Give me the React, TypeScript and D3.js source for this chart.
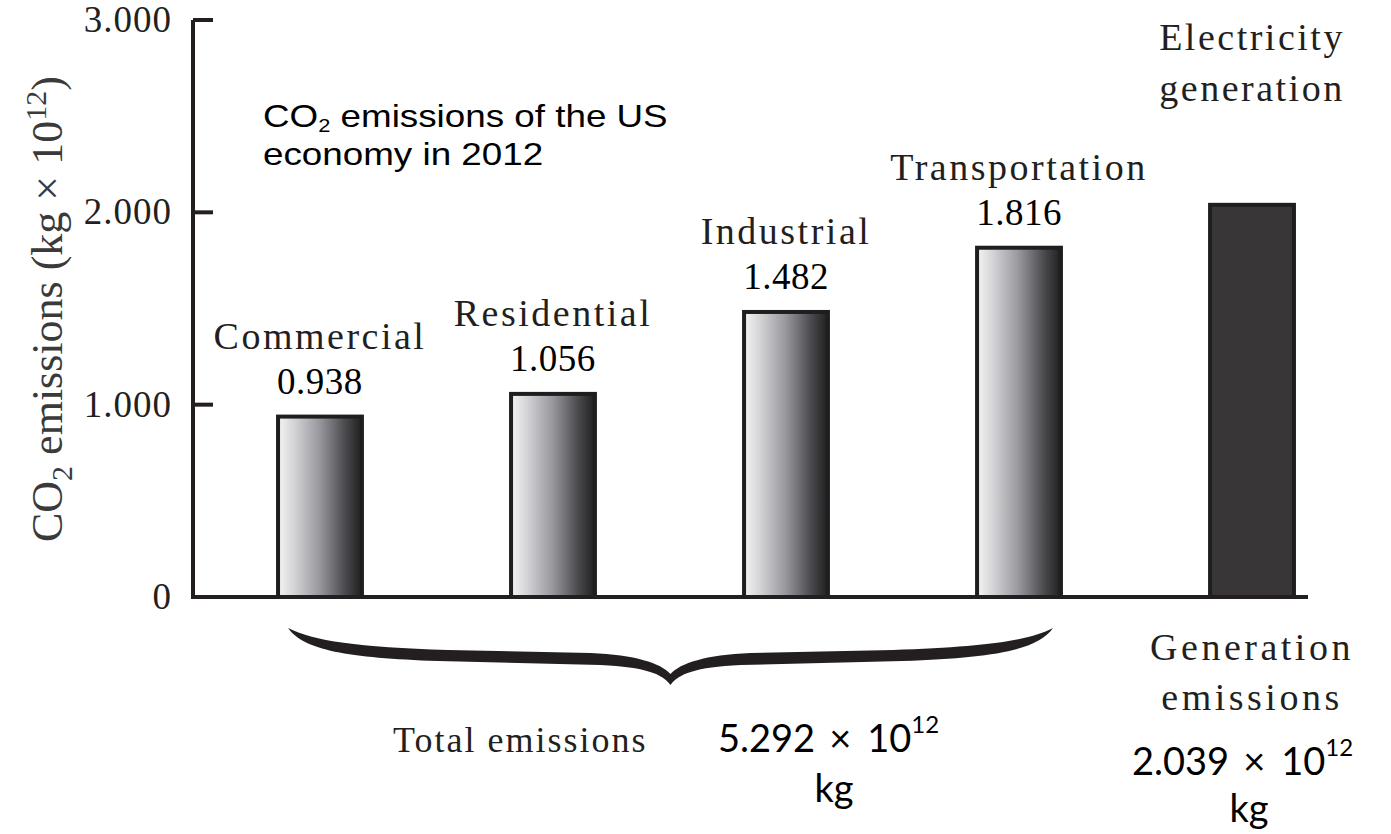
import React from "react";
import * as d3 from "d3";

const categories = ["Commercial", "Residential", "Industrial", "Transportation", "Electricity generation"];
const values = [0.938, 1.056, 1.482, 1.816, 2.039];
const valueLabels = ["0.938", "1.056", "1.482", "1.816", ""];
const nameLines = [["Commercial"], ["Residential"], ["Industrial"], ["Transportation"], ["Electricity", "generation"]];
const yTicks = [0, 1, 2, 3];
const yTickLabels = ["0", "1.000", "2.000", "3.000"];
const totalEmissions = "5.292";
const generationEmissions = "2.039";

const W = 1391;
const H = 834;
const X0 = 193;
const Y0 = 597;
const YTOP = 20;

const SERIF = "'Liberation Serif', 'Times New Roman', serif";
const SANS = "'Liberation Sans', Arial, sans-serif";
const CAL = "Lato, 'Open Sans', sans-serif";
const INK = "#231f20";

function bracePath(L: number, R: number, y0: number): string {
  const M = (L + R) / 2;
  const p = d3.path();
  p.moveTo(L, y0);
  p.bezierCurveTo(L + 15, y0 + 22, L + 60, y0 + 30, L + 150, y0 + 33);
  p.lineTo(M - 70, y0 + 37);
  p.bezierCurveTo(M - 25, y0 + 39, M - 8, y0 + 46, M, y0 + 57);
  p.bezierCurveTo(M + 8, y0 + 46, M + 25, y0 + 39, M + 70, y0 + 37);
  p.lineTo(R - 150, y0 + 33);
  p.bezierCurveTo(R - 60, y0 + 30, R - 15, y0 + 22, R, y0);
  p.bezierCurveTo(R - 25, y0 + 13, R - 70, y0 + 19, R - 160, y0 + 22);
  p.lineTo(M + 80, y0 + 25);
  p.bezierCurveTo(M + 35, y0 + 27, M + 10, y0 + 35, M, y0 + 46);
  p.bezierCurveTo(M - 10, y0 + 35, M - 35, y0 + 27, M - 80, y0 + 25);
  p.lineTo(L + 160, y0 + 22);
  p.bezierCurveTo(L + 70, y0 + 19, L + 25, y0 + 13, L, y0);
  p.closePath();
  return p.toString();
}

function Sci({ x, y, mant }: { x: number; y: number; mant: string }) {
  return (
    <text x={x} y={y} fontFamily={CAL} fontSize={38} fill="#000">
      {mant}
      <tspan dx={14}>×</tspan>
      <tspan dx={16}>10</tspan>
      <tspan dy={-19} fontSize={24}>12</tspan>
    </text>
  );
}

export default function App() {
  const y = d3.scaleLinear().domain([0, 3]).range([Y0, YTOP]);
  const x = d3
    .scaleBand<string>()
    .domain(categories)
    .range([X0, 1379])
    .paddingInner(0.64)
    .paddingOuter(0.365);
  const bw = x.bandwidth();
  const last = categories.length - 1;
  const braceL = (x(categories[0]) as number) + 10;
  const braceR = (x(categories[3]) as number) + bw - 8;
  const elecC = (x(categories[last]) as number) + bw / 2;

  return (
    <svg width={W} height={H} style={{ display: "block", position: "absolute", left: 0, top: 0, background: "#fff" }}>
      <defs>
        <linearGradient id="barGrad" x1="0" x2="1" y1="0" y2="0">
          <stop offset="0%" stopColor="#f4f4f5" />
          <stop offset="20%" stopColor="#d2d2d5" />
          <stop offset="50%" stopColor="#96969c" />
          <stop offset="80%" stopColor="#4a4a4e" />
          <stop offset="100%" stopColor="#1f1f20" />
        </linearGradient>
      </defs>

      {/* Y axis label */}
      <text
        transform={`translate(62, 542) rotate(-90)`}
        textAnchor="start"
        fontFamily={SERIF}
        fontSize={44}
        fill="#3a3a3a"
      >
        CO<tspan dy={10} fontSize={30}>2</tspan>
        <tspan dy={-10}> emissions (kg × 10</tspan>
        <tspan dy={-16} fontSize={30}>12</tspan>
        <tspan dy={16}>)</tspan>
      </text>

      {/* bars */}
      {categories.map((c, i) => (
        <rect
          key={c}
          x={x(c)}
          y={y(values[i])}
          width={bw}
          height={Y0 - y(values[i])}
          fill={i === last ? "#383637" : "url(#barGrad)"}
          stroke="#1e1e1e"
          strokeWidth={4}
        />
      ))}

      {/* axes */}
      <line x1={X0} x2={X0} y1={YTOP} y2={Y0} stroke="#231f20" strokeWidth={4} />
      <line x1={X0 - 2} x2={1308} y1={Y0} y2={Y0} stroke="#231f20" strokeWidth={4} />
      {yTicks.map((t, i) => (
        <g key={t}>
          {t > 0 && <line x1={X0} x2={X0 + 20} y1={y(t)} y2={y(t)} stroke="#231f20" strokeWidth={4} />}
          <text
            x={172}
            y={y(t) + 12}
            textAnchor="end"
            fontFamily={SERIF}
            fontSize={37}
            letterSpacing={1}
            fill={INK}
          >
            {yTickLabels[i]}
          </text>
        </g>
      ))}

      {/* category + value labels */}
      {categories.map((c, i) => {
        const cx = (x(c) as number) + bw / 2;
        const top = y(values[i]);
        if (i === last) {
          return (
            <g key={c}>
              {nameLines[i].map((ln, k) => (
                <text
                  key={ln}
                  x={cx}
                  y={top - 155 + k * 51}
                  textAnchor="middle"
                  fontFamily={SERIF}
                  fontSize={38}
                  letterSpacing={2.5}
                  fill={INK}
                >
                  {ln}
                </text>
              ))}
            </g>
          );
        }
        return (
          <g key={c}>
            <text
              x={cx}
              y={top - 68}
              textAnchor="middle"
              fontFamily={SERIF}
              fontSize={38}
              letterSpacing={2.5}
              fill={INK}
            >
              {nameLines[i][0]}
            </text>
            <text x={cx} y={top - 23} textAnchor="middle" fontFamily={SERIF} fontSize={37} letterSpacing={0.5} fill="#000">
              {valueLabels[i]}
            </text>
          </g>
        );
      })}

      {/* title */}
      <g transform="translate(263,0) scale(1.15,1)">
        <text fontFamily={SANS} fontSize={32} fill="#000">
          <tspan x={0} y={127}>CO</tspan>
          <tspan dy={5} fontSize={19}>2</tspan>
          <tspan dy={-5}> emissions of the US</tspan>
        </text>
        <text fontFamily={SANS} fontSize={32} fill="#000" x={0} y={165}>
          economy in 2012
        </text>
      </g>

      {/* brace */}
      <path d={bracePath(braceL, braceR, 628)} fill="#231f20" />

      {/* bottom annotations */}
      <text x={393} y={752} fontFamily={SERIF} fontSize={36} letterSpacing={2} fill={INK}>
        Total emissions
      </text>
      <Sci x={718} y={752} mant={totalEmissions} />
      <text x={834} y={802} textAnchor="middle" fontFamily={CAL} fontSize={38} fill="#000">
        kg
      </text>

      <text x={elecC} y={660} textAnchor="middle" fontFamily={SERIF} fontSize={38} letterSpacing={3.5} fill={INK}>
        Generation
      </text>
      <text x={elecC} y={710} textAnchor="middle" fontFamily={SERIF} fontSize={38} letterSpacing={3.5} fill={INK}>
        emissions
      </text>
      <Sci x={1132} y={775} mant={generationEmissions} />
      <text x={1249} y={822} textAnchor="middle" fontFamily={CAL} fontSize={38} fill="#000">
        kg
      </text>
    </svg>
  );
}
